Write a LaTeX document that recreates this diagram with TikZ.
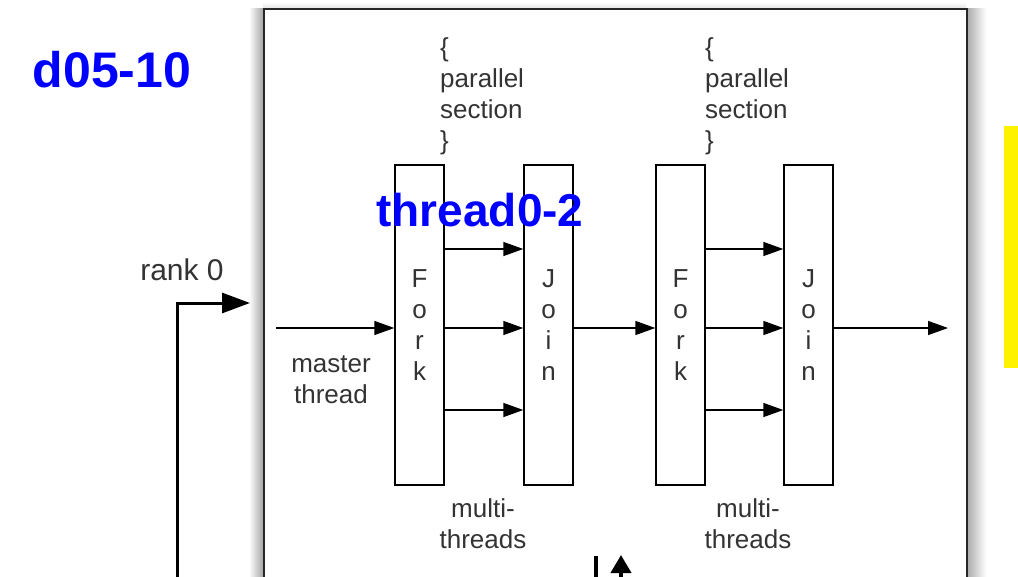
\documentclass[tikz,border=0pt]{standalone}
\usepackage{fontspec}
\setmainfont{Liberation Sans}
\usetikzlibrary{arrows.meta}
\definecolor{txtgray}{HTML}{333333}
\tikzset{
  box/.style={draw=black, line width=1.4pt, minimum width=49pt, minimum height=320pt, inner sep=0pt, fill=white},
  arr/.style={draw=black, line width=1.4pt, -{Triangle[length=20pt,width=14pt]}},
  bigarr/.style={draw=black, line width=3pt, -{Triangle[length=28pt,width=20pt]}},
  lbl/.style={text=txtgray, font=\fontsize{26}{31}\selectfont, inner sep=0pt},
  blue lbl/.style={text=blue, font=\bfseries\fontsize{46}{50}\selectfont, inner sep=0pt},
}
\begin{document}
\begin{tikzpicture}[x=1pt, y=-1pt]
\useasboundingbox (0,0) rectangle (1018,576);
\fill[white] (0,0) rectangle (1018,576);
% shadows of the frame
\shade[left color=white, right color=black!35] (249,8) rectangle (263,576);
\shade[left color=black!35, right color=white] (966,8) rectangle (986,576);
\shade[top color=white, bottom color=black!10] (263,2) rectangle (966,8);
% frame
\node[draw=black!85, line width=2pt, fill=white, minimum width=703pt, minimum height=600pt, inner sep=0pt, anchor=north west] (frame) at (263,8) {};
% yellow bar
\fill[yellow] (1004,126) rectangle (1018,368);
% boxes
\node[box, lbl, align=center] (f1) at (419.5,325) {F\\o\\r\\k};
\node[box, lbl, align=center] (j1) at (548.5,325) {J\\o\\i\\n};
\node[box, lbl, align=center] (f2) at (680.5,325) {F\\o\\r\\k};
\node[box, lbl, align=center] (j2) at (808.5,325) {J\\o\\i\\n};
% arrows
\coordinate (m0) at (276,328);
\coordinate (out) at (948,328);
\draw[arr] (m0) -- ([yshift=-3pt]f1.west);
\foreach \s in {76,-3,-85} {
  \draw[arr] ([yshift=\s pt]f1.east) -- ([yshift=\s pt]j1.west);
  \draw[arr] ([yshift=\s pt]f2.east) -- ([yshift=\s pt]j2.west);
}
\draw[arr] ([yshift=-3pt]j1.east) -- ([yshift=-3pt]f2.west);
\draw[arr] ([yshift=-3pt]j2.east) -- (out);
% labels
\node[lbl, align=left, anchor=north west] (ps1) at (440,37) {\{\\parallel\\section\\\}};
\node[lbl, align=left, anchor=north west] (ps2) at (705,37) {\{\\parallel\\section\\\}};
\node[lbl, align=center] (mt1) at (483,524) {multi-\\threads};
\node[lbl, align=center] (mt2) at (748,524) {multi-\\threads};
\node[lbl, align=center] (mth) at (331,380) {master\\thread};
\node[lbl, font=\fontsize{30}{34}\selectfont] (rank) at (182,270) {rank 0};
% rank 0 arrow
\coordinate (r0) at (177,580);
\coordinate (r1) at (177,303);
\draw[bigarr, shorten >=13pt] (r0) -- (r1) -- (frame.west |- r1);
% bottom marks
\coordinate (b0) at (596,556);
\coordinate (b1) at (596,580);
\draw[line width=4pt] (b0) -- (b1);
\coordinate (c0) at (621,580);
\coordinate (c1) at (621,555);
\draw[line width=4pt, -{Triangle[length=18pt,width=20pt]}] (c0) -- (c1);
% blue labels
\node[blue lbl, font=\bfseries\fontsize{50}{54}\selectfont] (d) at (112,70) {d05-10};
\node[blue lbl] (t) at (480,210) {thread0-2};
\end{tikzpicture}
\end{document}
